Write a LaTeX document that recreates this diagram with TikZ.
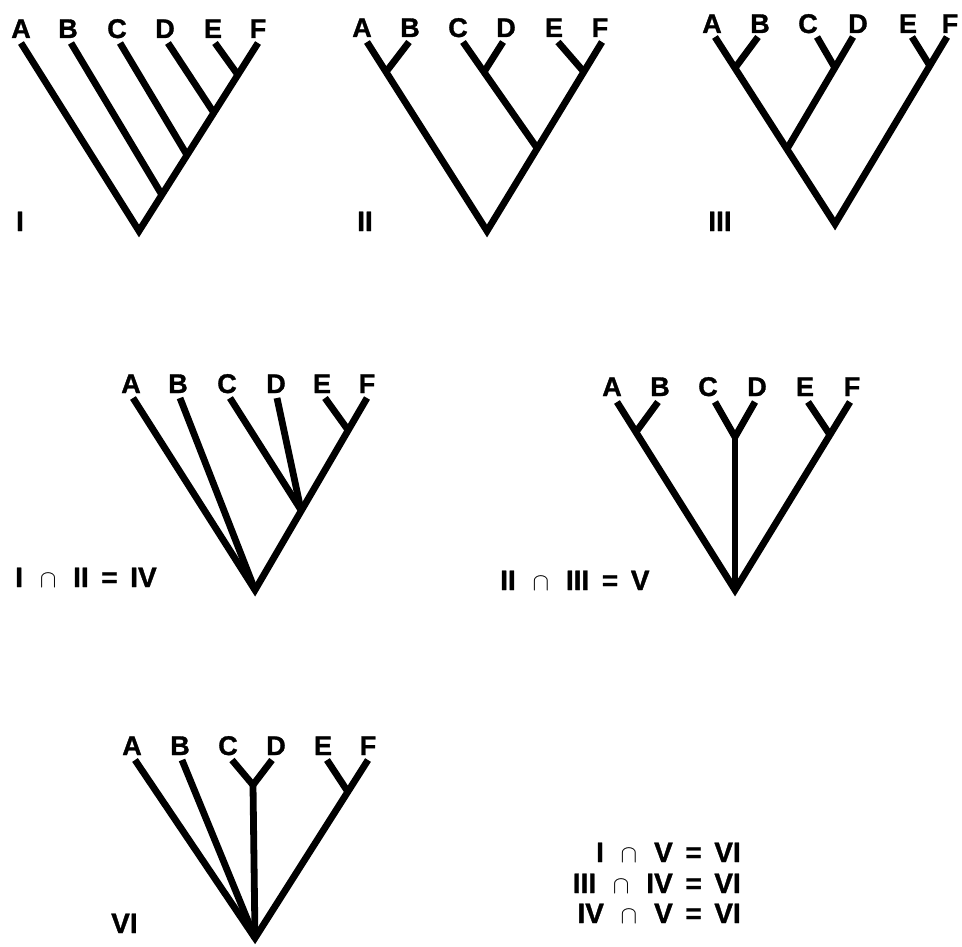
\documentclass[tikz,border=0pt]{standalone}
\usepackage{fontspec}
\setmainfont{Liberation Sans}[BoldFeatures={FakeBold=1.2}]
\newcommand\leafrow[8]{%
  \foreach \n/\xx in {A/#3,B/#4,C/#5,D/#6,E/#7,F/#8}{%
    \node[leaf] (#1\n) at (\xx,#2) {\n};}}
\newcommand\tiprow[8]{%
  \foreach \n/\xx in {A/#3,B/#4,C/#5,D/#6,E/#7,F/#8}{%
    \coordinate (#1t\n) at (\xx,#2);}}
\newcommand\icap{\hspace{0.6em}$\cap$\hspace{0.6em}}
\newcommand\ieq{\hspace{0.45em}=\hspace{0.45em}}
\begin{document}
\begin{tikzpicture}[x=1pt,y=-1pt,
  branch/.style={line width=6.8pt, line join=miter, miter limit=10},
  leaf/.style={font=\fontsize{27}{32}\selectfont\bfseries, anchor=base, inner sep=0pt},
  numlab/.style={font=\fontsize{28}{33}\selectfont\bfseries, inner sep=0pt}]
\useasboundingbox (0,0) rectangle (962,947);
% ---------------- Tree I
\leafrow{I}{38}{21}{68}{117}{165}{213}{258}
\tiprow{I}{43}{21}{71}{120}{168}{215}{258}
\coordinate (Ir) at (139,231);
\coordinate (Ief) at (238,75);
\coordinate (Id) at (214,113);
\coordinate (Ic) at (187,155);
\coordinate (Ib) at (162,195);
\draw[branch] (ItA) -- (Ir) -- (ItF);
\draw[branch] (ItE) -- (Ief);
\draw[branch] (ItD) -- (Id);
\draw[branch] (ItC) -- (Ic);
\draw[branch] (ItB) -- (Ib);
\node[numlab, anchor=base] (labI) at (20,231) {I};
% ---------------- Tree II
\leafrow{II}{37}{362}{410}{458}{506}{554}{600}
\tiprow{II}{42}{367}{409}{463}{503}{558}{602}
\coordinate (IIr) at (487,231);
\coordinate (IIab) at (386,72);
\coordinate (IIcdef) at (537,148);
\coordinate (IIcd) at (484,72);
\coordinate (IIef) at (584,72);
\draw[branch] (IItA) -- (IIr) -- (IItF);
\draw[branch] (IItB) -- (IIab);
\draw[branch] (IItC) -- (IIcdef);
\draw[branch] (IItD) -- (IIcd);
\draw[branch] (IItE) -- (IIef);
\node[numlab, anchor=base] (labII) at (365,231) {II};
% ---------------- Tree III
\leafrow{III}{33}{712}{760}{808}{858}{908}{950}
\tiprow{III}{37}{715}{758}{817}{853}{912}{947}
\coordinate (IIIr) at (835,224);
\coordinate (IIIab) at (735,68);
\coordinate (IIIabcd) at (787,149);
\coordinate (IIIcd) at (835,68);
\coordinate (IIIef) at (930,66);
\draw[branch] (IIItA) -- (IIIr) -- (IIItF);
\draw[branch] (IIItB) -- (IIIab);
\draw[branch] (IIItD) -- (IIIabcd);
\draw[branch] (IIItC) -- (IIIcd);
\draw[branch] (IIItE) -- (IIIef);
\node[numlab, anchor=base] (labIII) at (720,231) {III};
% ---------------- Tree IV
\leafrow{IV}{393}{131}{178}{227}{276}{322}{367}
\tiprow{IV}{398}{133}{180}{230}{277}{325}{367}
\coordinate (IVr) at (255,590);
\coordinate (IVef) at (348,430);
\coordinate (IVcd) at (301,510);
\draw[branch] (IVtA) -- (IVr) -- (IVtF);
\draw[branch] (IVtB) -- (IVr);
\draw[branch] (IVtC) -- (IVcd);
\draw[branch] (IVtD) -- (IVcd);
\draw[branch] (IVtE) -- (IVef);
\node[numlab, anchor=base west] (eqIV) at (15,587) {I\icap II\ieq IV};
% ---------------- Tree V
\leafrow{V}{396}{612}{660}{708}{757}{805}{852}
\tiprow{V}{402}{617}{658}{715}{755}{808}{850}
\coordinate (Vr) at (735,590);
\coordinate (Vab) at (636,432);
\coordinate (Vcd) at (735,437);
\coordinate (Vef) at (830,435);
\draw[branch] (VtA) -- (Vr) -- (VtF);
\draw[branch] (VtB) -- (Vab);
\draw[branch] (VtC) -- (Vcd) -- (VtD);
\draw[branch] (Vcd) -- (Vr);
\draw[branch] (VtE) -- (Vef);
\node[numlab, anchor=base west] (eqV) at (500,590) {II\icap III\ieq V};
% ---------------- Tree VI
\leafrow{VI}{755}{132}{180}{228}{276}{323}{368}
\tiprow{VI}{760}{135}{182}{232}{272}{327}{368}
\coordinate (VIr) at (255,938);
\coordinate (VIcd) at (253,785);
\coordinate (VIef) at (348,792);
\draw[branch] (VItA) -- (VIr) -- (VItF);
\draw[branch] (VItB) -- (VIr);
\draw[branch] (VItC) -- (VIcd) -- (VItD);
\draw[branch] (VIcd) -- (VIr);
\draw[branch] (VItE) -- (VIef);
\node[numlab, anchor=base west] (labVI) at (111,933) {VI};
% ---------------- equations
\node[numlab, anchor=base east] (eq1) at (741,862) {I\icap V\ieq VI};
\node[numlab, anchor=base east] (eq2) at (741,893) {III\icap IV\ieq VI};
\node[numlab, anchor=base east] (eq3) at (741,923) {IV\icap V\ieq VI};
\end{tikzpicture}
\end{document}
